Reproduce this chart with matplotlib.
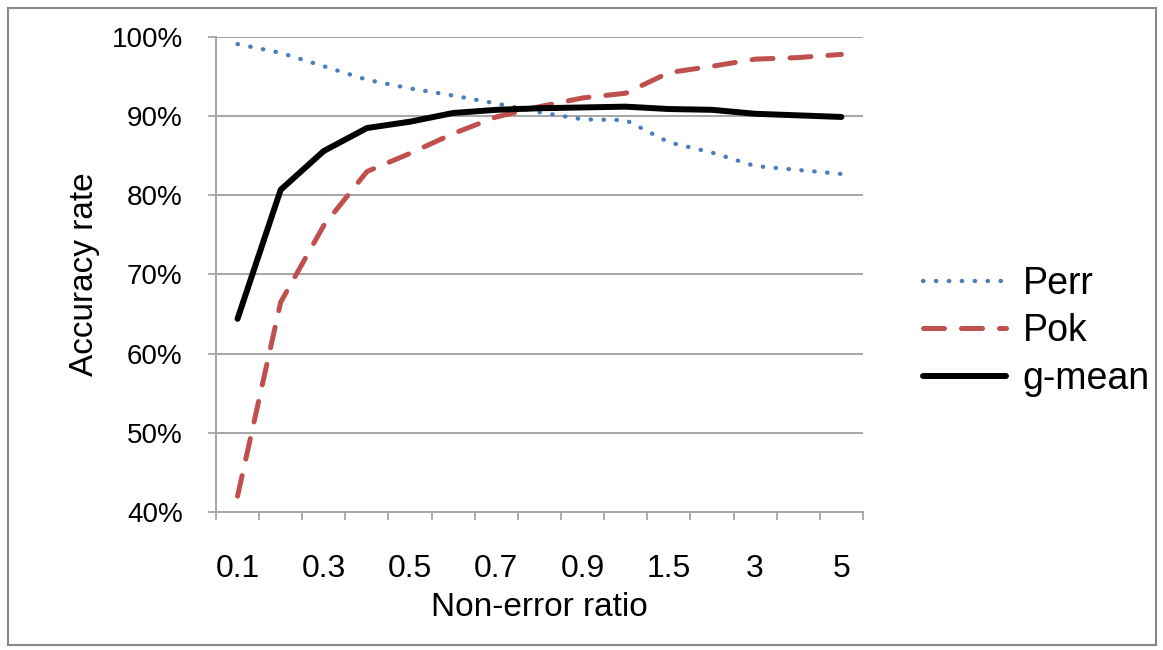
import numpy as np
import matplotlib.pyplot as plt
from matplotlib.patches import Rectangle

# ===================== DATA =====================
RATIOS = ["0.1", "0.2", "0.3", "0.4", "0.5", "0.6", "0.7", "0.8",
          "0.9", "1", "1.5", "2", "3", "4", "5"]
PERR = [99.1, 98.0, 96.3, 94.6, 93.5, 92.6, 91.6, 90.5,
        89.6, 89.5, 86.7, 85.4, 83.7, 83.2, 82.7]
POK = [42.0, 66.5, 76.2, 83.0, 85.3, 87.8, 89.9, 91.2,
       92.3, 92.9, 95.5, 96.3, 97.2, 97.4, 97.8]
GMEAN = [64.4, 80.7, 85.6, 88.5, 89.3, 90.4, 90.8, 91.0,
         91.1, 91.2, 90.9, 90.8, 90.3, 90.1, 89.9]
# ================================================

plt.rcParams["font.family"] = ["Liberation Sans", "DejaVu Sans"]
GRID = "#a6a6a6"

fig = plt.figure(figsize=(11.63, 6.5), dpi=100)
ax = fig.add_axes([0.1857, 0.2123, 0.5563, 0.7308])

x = np.arange(len(RATIOS))
ax.plot(x, PERR, color="#4a7ebb", lw=3.1, linestyle=(0, (0.1, 2.9)),
        dash_capstyle="round", label="Perr")
ax.plot(x, POK, color="#c0504d", lw=3.6, linestyle=(0, (4.2, 3.4)),
        dash_capstyle="round", label="Pok")
ax.plot(x, GMEAN, color="black", lw=4.3, solid_capstyle="round",
        label="g-mean")

ax.set_xlim(-0.5, len(RATIOS) - 0.5)
ax.set_ylim(40, 100)
ax.set_yticks(np.arange(40, 101, 10))
ax.set_yticklabels([f"{v}%" for v in range(40, 101, 10)], fontsize=20)
ax.set_xticks(x[::2])
ax.set_xticklabels(RATIOS[::2], fontsize=23)
ax.set_xticks(np.arange(-0.5, len(RATIOS)), minor=True)
ax.tick_params(axis="x", which="major", length=0, pad=30)
ax.tick_params(axis="x", which="minor", length=6, width=1.3, color=GRID)
ax.tick_params(axis="y", length=6, width=1.3, color=GRID, pad=18)

ax.grid(axis="y", color=GRID, lw=1.4)
ax.set_axisbelow(True)
for s in ["top", "right"]:
    ax.spines[s].set_visible(False)
for s in ["left", "bottom"]:
    ax.spines[s].set_color(GRID)
    ax.spines[s].set_linewidth(1.4)

ax.set_xlabel("Non-error ratio", fontsize=24, labelpad=6)
ax.set_ylabel("Accuracy rate", fontsize=24, labelpad=8)

ax.legend(loc="center left", bbox_to_anchor=(1.07, 0.38), frameon=False,
          fontsize=27, handlelength=2.2, handletextpad=0.45,
          labelspacing=0.3, borderaxespad=0)

# outer frame
fig.patches.append(Rectangle((0.007, 0.008), 0.987, 0.98, transform=fig.transFigure,
                             fill=False, edgecolor="#888888", lw=1.5))

fig.savefig("out.png", dpi=100)
